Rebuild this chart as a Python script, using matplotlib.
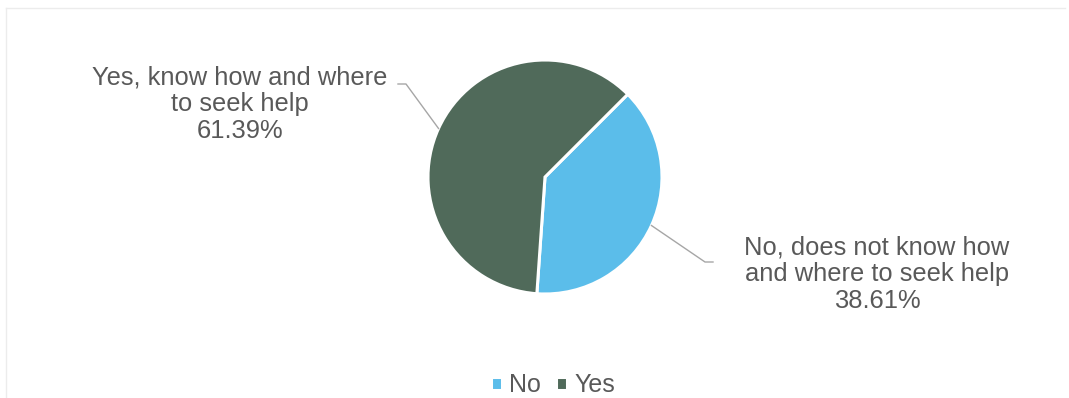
import matplotlib.pyplot as plt
import numpy as np

categories = ['No', 'Yes']
shares = [38.61, 61.39]
label_text = ['No, does not know how\nand where to seek help',
              'Yes, know how and where\nto seek help']
colors = ['#5bbdea', '#506a5a']

plt.rcParams['font.family'] = ['Liberation Sans', 'DejaVu Sans']
text_color = '#595959'

W, H = 1069, 398
fig = plt.figure(figsize=(W / 100, H / 100), dpi=100)
ax = fig.add_axes([0, 0, 1, 1])

# pie laid out in pixel units, y pointing up
cx, cy, r = 545, H - 177, 117
start = 45
wedges, _ = ax.pie(shares, colors=colors, startangle=start, counterclock=False,
                   center=(cx, cy), radius=r,
                   wedgeprops=dict(edgecolor='white', linewidth=2.2))
ax.set_xlim(0, W)
ax.set_ylim(0, H)
ax.set_aspect('auto')
ax.axis('off')

# leader lines start at the middle of each wedge's arc
fracs = np.array(shares) / sum(shares)
ends = start - np.cumsum(fracs) * 360
mids = ends + fracs * 180
tips = [(cx + r * np.cos(np.radians(a)), cy + r * np.sin(np.radians(a))) for a in mids]

# No label
tx, ty = tips[0]
ax.plot([tx, 705, 713], [ty, H - 262, H - 262], color='#a6a6a6', lw=1)
ax.text(877, H - 274, f'{label_text[0]}\n{shares[0]:.2f}%', ha='center', va='center',
        fontsize=18.4, color=text_color, linespacing=1.15)

# Yes label
tx, ty = tips[1]
ax.plot([tx, 406, 398], [ty, H - 84, H - 84], color='#a6a6a6', lw=1)
ax.text(240, H - 104, f'{label_text[1]}\n{shares[1]:.2f}%', ha='center', va='center',
        fontsize=18.4, color=text_color, linespacing=1.15)

ax.legend(wedges, categories, loc='center', bbox_to_anchor=(553 / W, 1 - 385 / H),
          ncol=2, frameon=False, fontsize=18, labelcolor=text_color,
          handlelength=0.42, handleheight=0.42, handletextpad=0.3, columnspacing=0.6)

# faint chart border
ax.plot([6, W - 4], [H - 8, H - 8], color='#ececec', lw=1)
ax.plot([6, 6], [H - 8, 0], color='#ececec', lw=1)

fig.savefig('out.png', dpi=100)
